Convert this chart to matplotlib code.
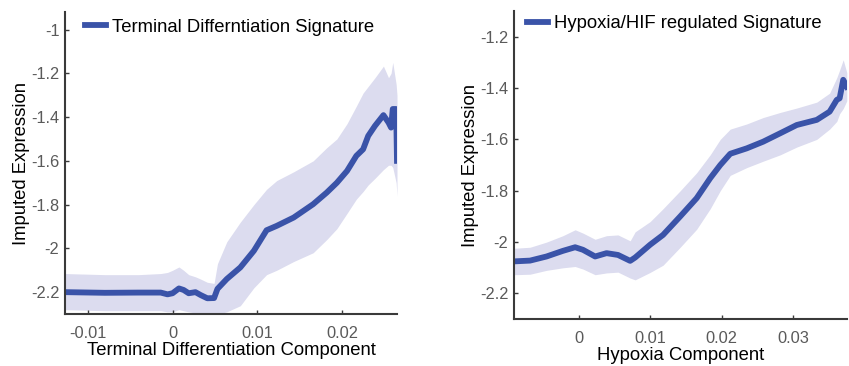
import matplotlib
matplotlib.use("Agg")
import matplotlib.pyplot as plt
import numpy as np

plt.rcParams['font.family'] = ['Liberation Sans', 'DejaVu Sans']
plt.rcParams['axes.unicode_minus'] = False

# ---- Left panel: Terminal Differentiation ----
td_x = [-0.0127, -0.008, -0.004, -0.0014, -0.0006, 0.0, 0.00075, 0.0013, 0.0019, 0.0027,
        0.0033, 0.0041, 0.0049, 0.0053, 0.0064, 0.008, 0.0096, 0.0111, 0.0123, 0.0143,
        0.0166, 0.0182, 0.0194, 0.0206, 0.0217, 0.0225, 0.0231, 0.0239, 0.0249, 0.0255,
        0.0258, 0.026, 0.0264, 0.0265]
td_mean = [-2.20, -2.203, -2.202, -2.202, -2.21, -2.205, -2.183, -2.19, -2.205, -2.20,
           -2.213, -2.228, -2.227, -2.185, -2.14, -2.087, -2.011, -1.917, -1.897, -1.859,
           -1.798, -1.745, -1.70, -1.646, -1.577, -1.547, -1.486, -1.44, -1.391, -1.425,
           -1.448, -1.363, -1.363, -1.60]
td_upper = [-2.115, -2.12, -2.12, -2.115, -2.11, -2.10, -2.085, -2.10, -2.12, -2.13,
            -2.14, -2.155, -2.16, -2.07, -1.97, -1.88, -1.80, -1.73, -1.69, -1.65,
            -1.60, -1.54, -1.50, -1.43, -1.35, -1.29, -1.26, -1.22, -1.167, -1.22,
            -1.20, -1.15, -1.25, -1.30]
td_lower = [-2.28, -2.285, -2.285, -2.285, -2.29, -2.29, -2.28, -2.285, -2.29, -2.295,
            -2.30, -2.30, -2.30, -2.30, -2.29, -2.262, -2.18, -2.12, -2.10, -2.06,
            -2.02, -1.96, -1.91, -1.84, -1.775, -1.74, -1.71, -1.68, -1.64, -1.62,
            -1.62, -1.63, -1.70, -1.76]

# ---- Right panel: Hypoxia ----
hy_x = [-0.009, -0.0068, -0.0045, -0.0022, -0.0005, 0.0006, 0.0023, 0.0039, 0.0055, 0.0072,
        0.0079, 0.010, 0.0118, 0.0142, 0.0165, 0.0184, 0.0198, 0.0212, 0.0235, 0.0258,
        0.0282, 0.0305, 0.0333, 0.0351, 0.0361, 0.0365, 0.037, 0.0375]
hy_mean = [-2.075, -2.072, -2.056, -2.034, -2.02, -2.03, -2.056, -2.043, -2.05, -2.073,
           -2.06, -2.01, -1.972, -1.90, -1.829, -1.751, -1.70, -1.656, -1.635, -1.609,
           -1.576, -1.544, -1.524, -1.492, -1.446, -1.44, -1.368, -1.395]
hy_upper = [-2.024, -2.02, -2.0, -1.975, -1.952, -1.965, -1.989, -1.975, -1.972, -1.995,
            -1.96, -1.92, -1.87, -1.80, -1.73, -1.66, -1.60, -1.56, -1.54, -1.515,
            -1.495, -1.478, -1.455, -1.42, -1.36, -1.33, -1.29, -1.34]
hy_lower = [-2.127, -2.125, -2.11, -2.10, -2.095, -2.105, -2.127, -2.12, -2.117, -2.14,
            -2.147, -2.118, -2.09, -2.02, -1.95, -1.87, -1.80, -1.74, -1.71, -1.685,
            -1.66, -1.63, -1.60, -1.56, -1.53, -1.50, -1.48, -1.45]

line_color = '#3a53a8'
band_color = '#dcdcef'
spine_color = '#3a3a3a'
tick_color = '#5a5a5a'

fig = plt.figure(figsize=(8.49, 3.66), dpi=100)
ax1 = fig.add_axes([0.0766, 0.142, 0.391, 0.825])
ax2 = fig.add_axes([0.6054, 0.128, 0.392, 0.842])

def style(ax):
    for s in ['top', 'right']:
        ax.spines[s].set_visible(False)
    for s in ['left', 'bottom']:
        ax.spines[s].set_color(spine_color)
        ax.spines[s].set_linewidth(1.5)
    ax.tick_params(direction='in', length=3, width=1, colors=spine_color,
                   labelcolor=tick_color, labelsize=11.8)
    ax.tick_params(axis='x', pad=8.5)
    ax.tick_params(axis='y', pad=4)

def fmt(v):
    return ('%g' % v)

# Left
ax1.fill_between(td_x, td_lower, td_upper, color=band_color, linewidth=0)
ax1.plot(td_x, td_mean, color=line_color, lw=4.2, label='Terminal Differntiation Signature',
         solid_joinstyle='round')
ax1.set_xlim(-0.0127, 0.0265)
ax1.set_ylim(-2.3, -0.92)
xt1 = [-0.01, 0, 0.01, 0.02]
yt1 = [-2.2, -2, -1.8, -1.6, -1.4, -1.2, -1]
ax1.set_xticks(xt1)
ax1.set_xticklabels([fmt(v) for v in xt1])
ax1.set_yticks(yt1)
ax1.set_yticklabels([fmt(v) for v in yt1])
ax1.set_xlabel('Terminal Differentiation Component', fontsize=13.3, labelpad=1)
ax1.set_ylabel('Imputed Expression', fontsize=13.3, labelpad=1)
style(ax1)
ax1.legend(loc='center left', frameon=False, fontsize=13.3, handlelength=1.15,
           handletextpad=0.3, borderpad=0, borderaxespad=0,
           bbox_to_anchor=(0.06, 0.950))

# Right
ax2.fill_between(hy_x, hy_lower, hy_upper, color=band_color, linewidth=0)
ax2.plot(hy_x, hy_mean, color=line_color, lw=4.2, label='Hypoxia/HIF regulated Signature',
         solid_joinstyle='round')
ax2.set_xlim(-0.00905, 0.0375)
ax2.set_ylim(-2.3, -1.1)
xt2 = [0, 0.01, 0.02, 0.03]
yt2 = [-2.2, -2, -1.8, -1.6, -1.4, -1.2]
ax2.set_xticks(xt2)
ax2.set_xticklabels([fmt(v) for v in xt2])
ax2.set_yticks(yt2)
ax2.set_yticklabels([fmt(v) for v in yt2])
ax2.set_xlabel('Hypoxia Component', fontsize=13.3, labelpad=1)
ax2.set_ylabel('Imputed Expression', fontsize=13.3, labelpad=1)
style(ax2)
ax2.legend(loc='center left', frameon=False, fontsize=13.3, handlelength=1.15,
           handletextpad=0.3, borderpad=0, borderaxespad=0,
           bbox_to_anchor=(0.039, 0.958))

fig.savefig('out.png', dpi=100)
